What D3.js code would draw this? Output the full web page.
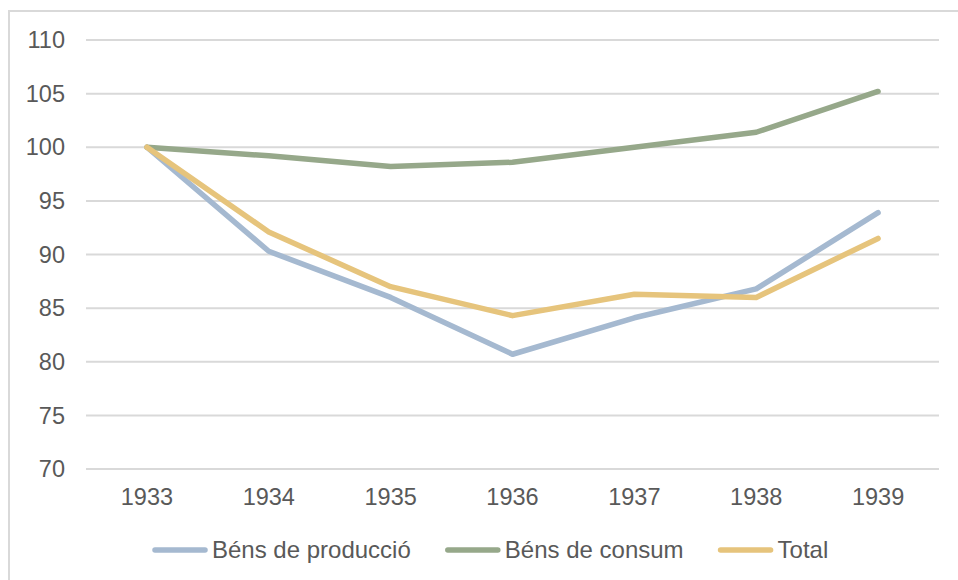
<!DOCTYPE html>
<html lang="ca">
<head>
  <meta charset="UTF-8">
  <title>Índex de producció industrial 1933-1939</title>
  <script src="https://cdn.jsdelivr.net/npm/d3@7/dist/d3.min.js"></script>
  <style>
    * { margin: 0; padding: 0; }
    body { background: #fff; }
    svg { display: block; font-family: "Liberation Sans", Arial, sans-serif; }
  </style>
</head>
<body>
  <div id="chart"></div>
  <script>
  // dades
  var years = ["1933", "1934", "1935", "1936", "1937", "1938", "1939"];
  var produccio = [100, 90.3, 86.0, 80.7, 84.1, 86.8, 93.9];
  var consum = [100, 99.2, 98.2, 98.6, 100.0, 101.4, 105.2];
  var total = [100, 92.1, 87.0, 84.3, 86.3, 86.0, 91.5];
  var yTicks = [70, 75, 80, 85, 90, 95, 100, 105, 110];

  var series = [
    { name: "Béns de producció", values: produccio, color: "#a5b9d0" },
    { name: "Béns de consum", values: consum, color: "#96a88a" },
    { name: "Total", values: total, color: "#e6c47c" }
  ];

  var width = 958, height = 580;
  var svg = d3.select("#chart").append("svg")
      .attr("width", width)
      .attr("height", height);

  // marc
  svg.append("path")
      .attr("d", "M9,580 V11 H958")
      .attr("fill", "none")
      .attr("stroke", "#d9d9d9")
      .attr("stroke-width", 2);

  var x = d3.scalePoint().domain(years).range([86, 939]).padding(0.5);
  var y = d3.scaleLinear().domain([70, 110]).range([469, 40]);

  // graella
  svg.append("g").selectAll("line")
    .data(yTicks)
    .enter().append("line")
      .attr("x1", 86).attr("x2", 939)
      .attr("y1", function (d) { return y(d); })
      .attr("y2", function (d) { return y(d); })
      .attr("stroke", "#d9d9d9")
      .attr("stroke-width", 2);

  // eix y
  svg.append("g").selectAll("text")
    .data(yTicks)
    .enter().append("text")
      .attr("x", 65)
      .attr("y", function (d) { return y(d); })
      .attr("dy", "0.35em")
      .attr("text-anchor", "end")
      .attr("fill", "#595959")
      .style("font-size", "23.5px")
      .text(function (d) { return d; });

  // eix x
  svg.append("g").selectAll("text")
    .data(years)
    .enter().append("text")
      .attr("x", function (d) { return x(d); })
      .attr("y", 497)
      .attr("dy", "0.35em")
      .attr("text-anchor", "middle")
      .attr("fill", "#595959")
      .style("font-size", "23.5px")
      .text(function (d) { return d; });

  // línies
  var line = d3.line()
      .x(function (d, i) { return x(years[i]); })
      .y(function (d) { return y(d); });

  svg.append("g").selectAll("path")
    .data(series)
    .enter().append("path")
      .attr("d", function (d) { return line(d.values); })
      .attr("fill", "none")
      .attr("stroke", function (d) { return d.color; })
      .attr("stroke-width", 5.5)
      .attr("stroke-linecap", "round")
      .attr("stroke-linejoin", "round");

  // llegenda
  var legend = svg.append("g");
  var lx = 155;
  series.forEach(function (s) {
    legend.append("line")
      .attr("x1", lx).attr("x2", lx + 50)
      .attr("y1", 550).attr("y2", 550)
      .attr("stroke", s.color)
      .attr("stroke-width", 5.5)
      .attr("stroke-linecap", "round");
    var t = legend.append("text")
      .attr("x", lx + 57)
      .attr("y", 550)
      .attr("dy", "0.35em")
      .attr("fill", "#595959")
      .style("font-size", "24px")
      .text(s.name);
    lx += 57 + t.node().getComputedTextLength() + 37;
  });
  </script>
</body>
</html>
